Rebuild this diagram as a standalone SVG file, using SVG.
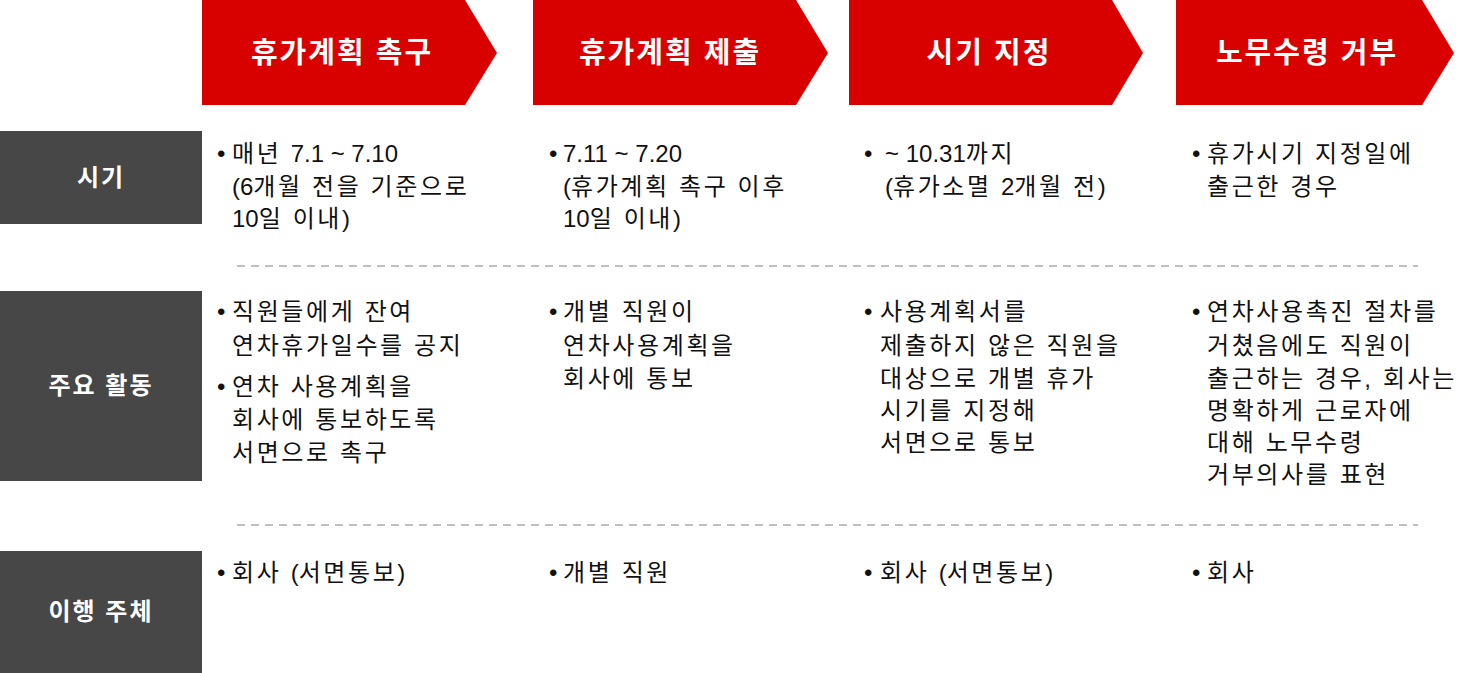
<svg xmlns="http://www.w3.org/2000/svg" width="1471" height="673" viewBox="0 0 1471 673">
<style>
.hdr{fill:#d90000}
.lbl{fill:#474747}
.ht{font-family:"Liberation Sans","Noto Sans CJK KR",sans-serif;font-size:29px;font-weight:bold;fill:#fff;text-anchor:middle;letter-spacing:2px}
.lt{font-family:"Liberation Sans","Noto Sans CJK KR",sans-serif;font-size:24px;font-weight:bold;fill:#fff;text-anchor:middle;letter-spacing:2px}
.bt{font-family:"Liberation Sans","Noto Sans CJK KR",sans-serif;font-size:24px;fill:#111;letter-spacing:2.6px}
.l0{letter-spacing:0}
.dash{stroke:#c0c0c0;stroke-width:2;stroke-dasharray:8 6;fill:none}
</style>
<g id="header1"><polygon class="hdr" points="202,0 465,0 497,53 465,105 202,105"/><text class="ht" x="342" y="63">휴가계획 촉구</text></g>
<g id="header2"><polygon class="hdr" points="533,0 796,0 828,53 796,105 533,105"/><text class="ht" x="670" y="63">휴가계획 제출</text></g>
<g id="header3"><polygon class="hdr" points="849,0 1112,0 1143,53 1112,105 849,105"/><text class="ht" x="989" y="63">시기 지정</text></g>
<g id="header4"><polygon class="hdr" points="1176,0 1422,0 1454,53 1422,105 1176,105"/><text class="ht" x="1307" y="63">노무수령 거부</text></g>

<g id="label1"><rect class="lbl" x="0" y="131" width="202" height="93"/><text class="lt" x="101" y="186">시기</text></g>
<g id="label2"><rect class="lbl" x="0" y="291" width="202" height="190"/><text class="lt" x="101" y="394">주요 활동</text></g>
<g id="label3"><rect class="lbl" x="0" y="551" width="202" height="122"/><text class="lt" x="101" y="620">이행 주체</text></g>

<g id="separators">
<line class="dash" x1="237" y1="266" x2="1418" y2="266"/>
<line class="dash" x1="237" y1="525" x2="1418" y2="525"/>
</g>

<g id="r1c1" class="bt">
<text x="217" y="162">•</text>
<text x="232" y="162">매년 <tspan class="l0">7.1 ~ 7.10</tspan></text>
<text x="232" y="195"><tspan class="l0">(6</tspan>개월 전을 기준으로</text>
<text x="232" y="227"><tspan class="l0">10</tspan>일 이내)</text>
</g>
<g id="r1c2" class="bt">
<text x="549" y="162">•</text>
<text x="563" y="162" class="l0">7.11 ~ 7.20</text>
<text x="563" y="195"><tspan class="l0">(</tspan>휴가계획 촉구 이후</text>
<text x="563" y="227"><tspan class="l0">10</tspan>일 이내)</text>
</g>
<g id="r1c3" class="bt">
<text x="864" y="162">•</text>
<text x="885" y="162"><tspan class="l0">~ 10.31</tspan>까지</text>
<text x="885" y="195"><tspan class="l0">(</tspan>휴가소멸 <tspan class="l0">2</tspan>개월 전)</text>
</g>
<g id="r1c4" class="bt">
<text x="1192" y="162">•</text>
<text x="1207" y="162">휴가시기 지정일에</text>
<text x="1207" y="195">출근한 경우</text>
</g>

<g id="r2c1" class="bt">
<text x="217" y="320">•</text>
<text x="232" y="320">직원들에게 잔여</text>
<text x="232" y="354">연차휴가일수를 공지</text>
<text x="217" y="395">•</text>
<text x="232" y="395">연차 사용계획을</text>
<text x="232" y="428">회사에 통보하도록</text>
<text x="232" y="461">서면으로 촉구</text>
</g>
<g id="r2c2" class="bt">
<text x="549" y="320">•</text>
<text x="563" y="320">개별 직원이</text>
<text x="563" y="354">연차사용계획을</text>
<text x="563" y="387">회사에 통보</text>
</g>
<g id="r2c3" class="bt">
<text x="864" y="320">•</text>
<text x="880" y="320">사용계획서를</text>
<text x="880" y="354">제출하지 않은 직원을</text>
<text x="880" y="387">대상으로 개별 휴가</text>
<text x="880" y="419">시기를 지정해</text>
<text x="880" y="451">서면으로 통보</text>
</g>
<g id="r2c4" class="bt">
<text x="1192" y="320">•</text>
<text x="1207" y="320">연차사용촉진 절차를</text>
<text x="1207" y="354">거쳤음에도 직원이</text>
<text x="1207" y="387">출근하는 경우, 회사는</text>
<text x="1207" y="419">명확하게 근로자에</text>
<text x="1207" y="451">대해 노무수령</text>
<text x="1207" y="483">거부의사를 표현</text>
</g>

<g id="r3c1" class="bt"><text x="217" y="581">•</text><text x="232" y="581">회사 <tspan class="l0">(</tspan>서면통보)</text></g>
<g id="r3c2" class="bt"><text x="549" y="581">•</text><text x="563" y="581">개별 직원</text></g>
<g id="r3c3" class="bt"><text x="864" y="581">•</text><text x="880" y="581">회사 <tspan class="l0">(</tspan>서면통보)</text></g>
<g id="r3c4" class="bt"><text x="1192" y="581">•</text><text x="1207" y="581">회사</text></g>
</svg>
